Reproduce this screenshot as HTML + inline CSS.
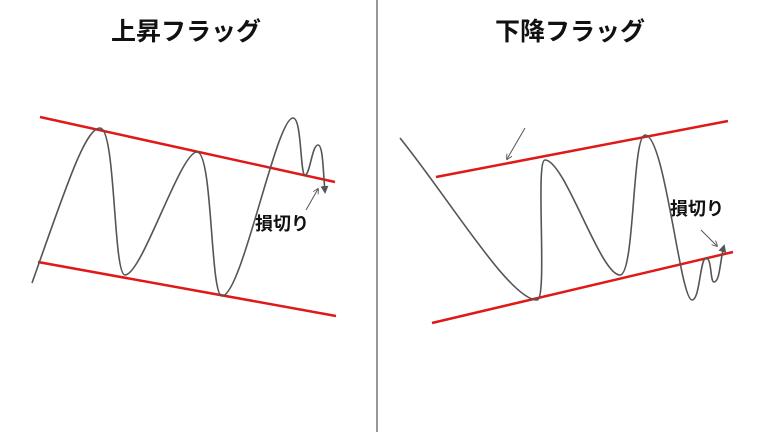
<!DOCTYPE html>
<html><head><meta charset="utf-8"><style>
html,body{margin:0;padding:0;background:#fff;width:768px;height:432px;overflow:hidden}
</style></head><body>
<svg width="768" height="432" viewBox="0 0 768 432" xmlns="http://www.w3.org/2000/svg">
<defs>
<marker id="ah" markerWidth="8" markerHeight="8" refX="6" refY="4" orient="auto" markerUnits="userSpaceOnUse"><path d="M0,0 L8,4 L0,8 z" fill="#555"/></marker>
<marker id="sa" markerWidth="6" markerHeight="6" refX="5" refY="3" orient="auto" markerUnits="userSpaceOnUse"><path d="M0,0 L6,3 L0,6" fill="none" stroke="#666" stroke-width="1"/></marker>
</defs>
<line x1="377" y1="0" x2="377" y2="432" stroke="#777" stroke-width="1.5"/>
<g font-family="'Liberation Sans','Noto Sans CJK JP',sans-serif" font-weight="bold" fill="#111">
<text x="186" y="40" font-size="25" text-anchor="middle">上昇フラッグ</text>
<text x="570" y="40" font-size="25" text-anchor="middle">下降フラッグ</text>
<text x="255" y="230" font-size="18">損切り</text>
<text x="670" y="215" font-size="18">損切り</text>
</g>
<g stroke="#e01818" stroke-width="2.5">
<line x1="40" y1="117" x2="335" y2="182"/>
<line x1="38" y1="262" x2="336" y2="316"/>
<line x1="436" y1="177" x2="728" y2="121"/>
<line x1="432" y1="323" x2="733" y2="252"/>
</g>
<g fill="none" stroke="#555" stroke-width="1.6">
<path d="M32,283 C65,190 85,128 100,128 C116,128 113,275 125,275 C142,275 180,152 197,152 C213,152 210,296 222,296 C242,296 276,118 293,118 C302,118 300,175 305,175 C310,175 312,145 318,145 C323,145 323,170 325,192" marker-end="url(#ah)"/>
<path d="M400,138 C450,200 510,300 537,300 C548,300 535,160 545,160 C565,160 600,275 620,275 C635,275 632,135 645,135 C665,135 680,300 692,300 C700,300 700,258 706,258 C712,258 710,282 714,282 C720,282 720,260 724,246" marker-end="url(#ah)"/>
<line x1="306" y1="210" x2="318" y2="189" stroke-width="1" marker-end="url(#sa)"/>
<line x1="701" y1="230" x2="717" y2="246" stroke-width="1" marker-end="url(#sa)"/>
<line x1="525" y1="128" x2="507" y2="159" stroke-width="1" marker-end="url(#sa)"/>
</g>
</svg>
</body></html>
